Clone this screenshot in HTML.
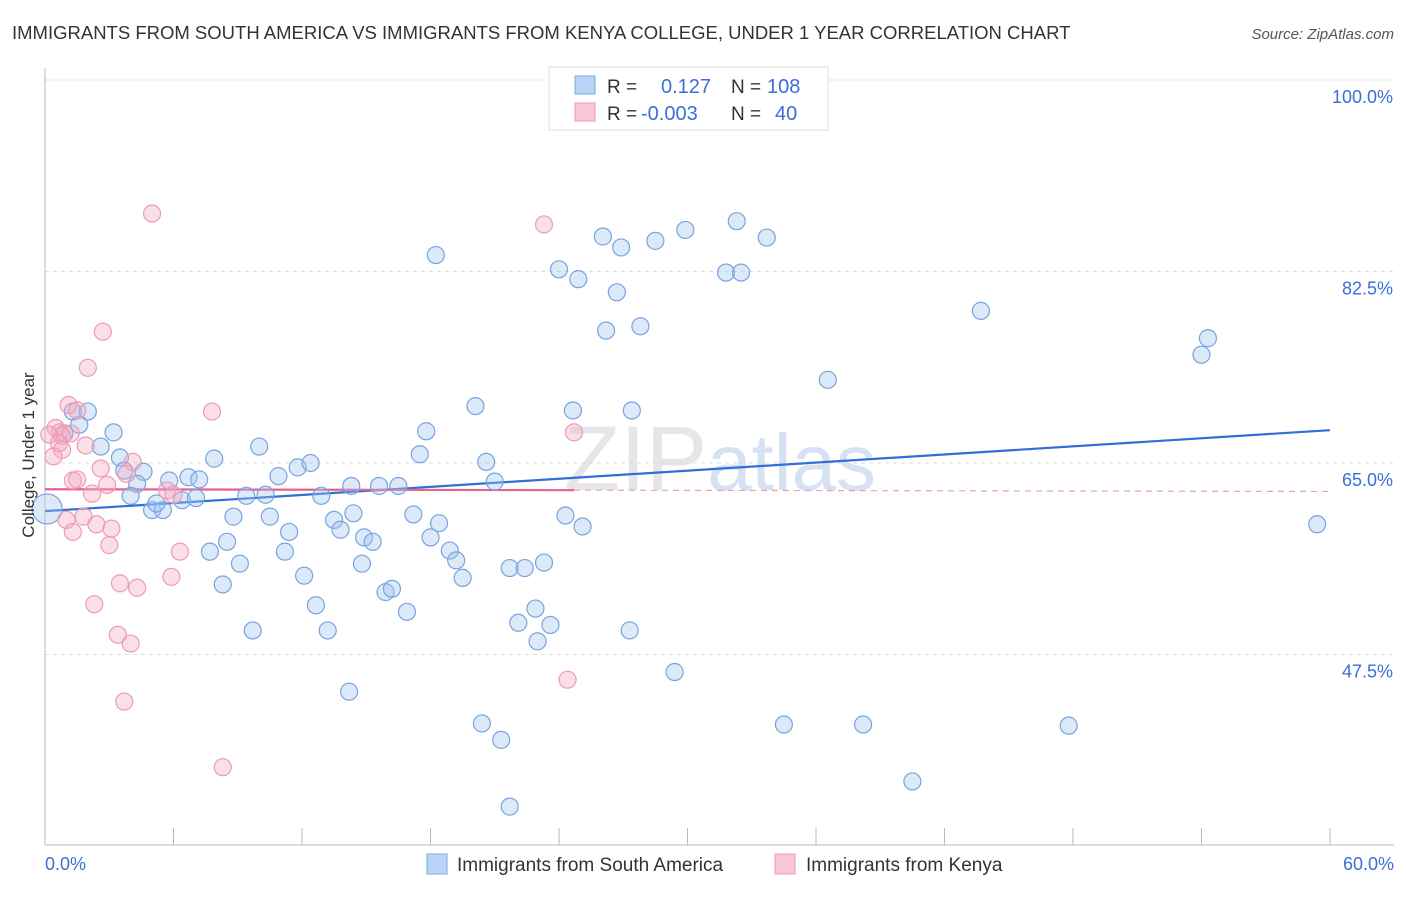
<!DOCTYPE html>
<html><head><meta charset="utf-8">
<style>
body{margin:0;background:#fff;font-family:"Liberation Sans",sans-serif;}
svg text{font-family:"Liberation Sans",sans-serif;}
</style></head>
<body>
<svg id="chart" width="1406" height="892" xmlns="http://www.w3.org/2000/svg">
<text x="12" y="39" font-size="18.5" fill="#333">IMMIGRANTS FROM SOUTH AMERICA VS IMMIGRANTS FROM KENYA COLLEGE, UNDER 1 YEAR CORRELATION CHART</text>
<text x="1394" y="39" font-size="15" fill="#555" text-anchor="end" font-style="italic">Source: ZipAtlas.com</text>
<text x="720" y="490" font-size="92" fill="#e6e6ea" text-anchor="middle" font-family="Liberation Serif">ZIP<tspan fill="#d6e2f3" font-family="Liberation Sans" font-size="80">atlas</tspan></text>
<g id="grid"></g>
<g id="axes"></g>
<g id="trends"></g>
<g id="points"></g>
<text transform="translate(34,455) rotate(-90)" font-size="17" fill="#333" text-anchor="middle">College, Under 1 year</text>
<g>
<rect x="549" y="67" width="279" height="63" fill="#fff" stroke="#ddd"/>
<rect x="575" y="76" width="20" height="18" fill="#b8d3f3" stroke="#7aa8e0"/>
<rect x="575" y="103" width="20" height="18" fill="#f9c6d6" stroke="#ef9ab8"/>
<text x="607" y="93" font-size="19" fill="#333">R =</text>
<text x="661" y="93" font-size="20" fill="#3a6fd8">0.127</text>
<text x="731" y="93" font-size="19" fill="#333">N =</text>
<text x="767" y="93" font-size="20" fill="#3a6fd8">108</text>
<text x="607" y="120" font-size="19" fill="#333">R =</text>
<text x="641" y="120" font-size="20" fill="#3a6fd8">-0.003</text>
<text x="731" y="120" font-size="19" fill="#333">N =</text>
<text x="775" y="120" font-size="20" fill="#3a6fd8">40</text>
</g>
<g>
<rect x="427" y="854" width="20" height="20" fill="#b8d3f3" stroke="#7aa8e0"/>
<text x="457" y="871" font-size="19" fill="#333">Immigrants from South America</text>
<rect x="775" y="854" width="20" height="20" fill="#f9c6d6" stroke="#ef9ab8"/>
<text x="806" y="871" font-size="19" fill="#333">Immigrants from Kenya</text>
</g>
</svg>
<script>
const yTicks=[100,82.5,65,47.5];
const yTickLabels=["100.0%","82.5%","65.0%","47.5%"];
const xTicks=[0,6,12,18,24,30,36,42,48,54,60];
const xTickLabels=["0.0%","60.0%"];
const blueX=[35.25,18.25,26.05,26.9,28.5,29.9,32.3,33.7,24.0,24.9,26.7,31.8,32.5,26.2,27.8,43.7,54.3,54.0,36.55,20.1,24.65,27.4,17.8,17.5,20.6,21.0,1.3,2.0,1.6,0.9,3.2,2.6,3.5,3.7,4.6,4.3,4.0,5.0,5.5,5.2,5.8,6.7,7.2,6.4,7.05,7.9,10.0,11.8,12.4,10.9,9.4,10.3,12.9,8.8,10.5,11.4,13.5,14.4,13.8,14.9,15.3,14.3,15.6,16.5,17.2,18.4,18.0,18.9,19.2,19.5,21.7,22.4,23.3,24.3,25.1,7.7,8.5,9.1,11.2,12.1,14.8,15.9,16.2,8.3,12.65,16.9,22.9,22.1,23.6,23.0,27.3,9.7,13.2,14.2,29.4,20.4,21.3,34.5,38.2,47.8,40.5,21.7,59.4,0.1];
const blueY=[100.2,84.0,85.7,84.7,85.3,86.3,87.1,85.6,82.7,81.8,80.6,82.4,82.4,77.1,77.5,78.9,76.4,74.9,72.6,70.2,69.8,69.8,67.9,65.8,65.1,63.3,69.7,69.7,68.5,67.7,67.8,66.5,65.5,64.3,64.2,63.1,62.0,60.7,60.7,61.3,63.4,63.7,63.5,61.6,61.8,65.4,66.5,64.6,65.0,63.8,62.0,62.1,62.0,60.1,60.1,58.7,59.8,60.4,58.9,58.2,57.8,62.9,62.9,62.9,60.3,59.5,58.2,57.0,56.1,54.5,55.4,55.4,55.9,60.2,59.2,56.9,57.8,55.8,56.9,54.7,55.8,53.2,53.5,53.9,52.0,51.4,51.7,50.4,50.2,48.7,49.7,49.7,49.7,44.1,45.9,41.2,39.7,41.1,41.1,41.0,35.9,33.6,59.4,60.8];
const pinkX=[5.0,23.3,2.7,2.0,7.8,1.1,1.5,0.5,0.7,0.8,0.2,1.2,0.65,0.8,0.4,24.7,1.9,4.1,2.6,3.8,1.3,1.5,2.9,2.2,5.7,6.0,1.0,1.8,2.4,3.1,1.3,3.0,6.3,3.5,4.3,5.9,2.3,3.4,4.0,24.4,3.7,8.3];
const pinkY=[87.8,86.8,77.0,73.7,69.7,70.3,69.8,68.2,67.8,67.5,67.6,67.7,66.8,66.2,65.6,67.8,66.6,65.1,64.5,64.0,63.4,63.5,63.0,62.2,62.5,62.1,59.8,60.1,59.4,59.0,58.7,57.5,56.9,54.0,53.6,54.6,52.1,49.3,48.5,45.2,43.2,37.2];
const blueTrend=[60.6,68.0];
const pinkTrend=[62.6,62.4];

const X0=45,X1=1330,Y100=80,PXPER=191.5/17.5;
function sx(v){return X0+(X1-X0)*v/60;}
function sy(v){return Y100+(100-v)*PXPER;}
const NS="http://www.w3.org/2000/svg";
function mk(tag,parent,attrs){const e=document.createElementNS(NS,tag);for(const k in attrs)e.setAttribute(k,attrs[k]);parent.appendChild(e);return e;}
const grid=document.getElementById('grid'),axes=document.getElementById('axes'),trends=document.getElementById('trends'),pts=document.getElementById('points');
yTicks.forEach((t,i)=>{
  const l=mk('line',grid,{x1:X0,x2:1394,y1:sy(t),y2:sy(t),stroke:'#dcdcdc','stroke-dasharray':'4,4'});
  
  
  const tx=mk('text',grid,{x:1393,y:sy(t)+23,'font-size':18,fill:'#3a6fd8','text-anchor':'end'});
  tx.textContent=yTickLabels[i];
  
  
});
const ax=mk('line',axes,{x1:X0,x2:1394,y1:845,y2:845,stroke:'#bbb'});


const ay=mk('line',axes,{x1:X0,x2:X0,y1:68,y2:845,stroke:'#bbb'});


xTicks.forEach(t=>{
  const l=mk('line',axes,{x1:sx(t),x2:sx(t),y1:828,y2:845,stroke:'#bbb'});
  
  
});
[[0,'start',45],[60,'end',1394]].forEach((d,i)=>{
  const tx=mk('text',axes,{x:d[2],y:870,'font-size':18,fill:'#3a6fd8','text-anchor':d[1]});
  tx.textContent=xTickLabels[i];
  
  
});
function addPts(xs,ys,fill,stroke,name){
  xs.forEach((x,i)=>{
    const big=(x<0.5&&name==='blue-point'&&i===xs.length-1);
    const c=mk('circle',pts,{cx:sx(x),cy:sy(ys[i]),r:big?15:8.5,fill:fill,stroke:stroke,'stroke-width':1.2});
    
    
  });
}
addPts(blueX,blueY,'rgba(160,196,240,0.38)','#77a4de','blue-point');
addPts(pinkX,pinkY,'rgba(245,170,195,0.38)','#ee9ab7','pink-point');
const bl=mk('line',trends,{x1:sx(0),y1:sy(blueTrend[0]),x2:sx(60),y2:sy(blueTrend[1]),stroke:'#2f6fd6','stroke-width':2.2});


const pmax=Math.max(...pinkX);
const pAt=v=>pinkTrend[0]+(pinkTrend[1]-pinkTrend[0])*v/60;
const pl=mk('line',trends,{x1:sx(0),y1:sy(pAt(0)),x2:sx(pmax),y2:sy(pAt(pmax)),stroke:'#e8608e','stroke-width':2.2});


const pd=mk('line',trends,{x1:sx(pmax),y1:sy(pAt(pmax)),x2:sx(60),y2:sy(pAt(60)),stroke:'#e8a0b8','stroke-width':1.2,'stroke-dasharray':'6,5'});


</script>
</body></html>
